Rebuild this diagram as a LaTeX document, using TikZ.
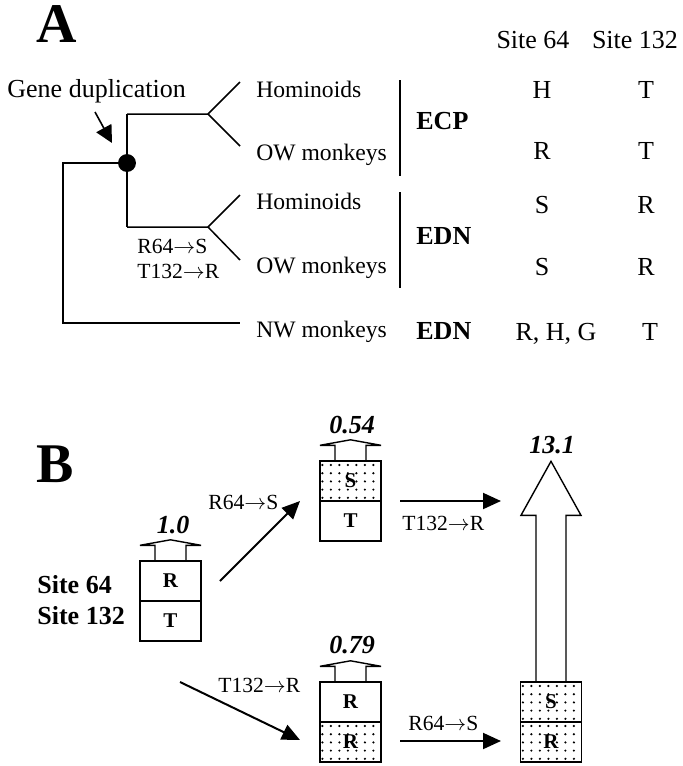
\documentclass[tikz,border=0pt]{standalone}
\usepackage{fontspec}
\setmainfont{Liberation Serif}
\usetikzlibrary{arrows.meta,calc}
\newcommand{\fs}[1]{\fontsize{#1}{#1}\selectfont}
\newcommand{\ra}{\ensuremath{\rightarrow}}
\begin{document}
\begin{tikzpicture}[x=0.5pt,y=-0.5pt,
  txt/.style={inner sep=0,anchor=base west},
  ctxt/.style={inner sep=0,anchor=base},
  treelab/.style={txt,font=\fs{11.8}},
  smalllab/.style={txt,font=\fs{10.8}},
  hdr/.style={ctxt,font=\fs{13}},
  grp/.style={txt,font=\bfseries\fs{13}},
  panel/.style={ctxt,font=\bfseries\fs{28}},
  num/.style={ctxt,font=\bfseries\itshape\fs{13}},
  tree/.style={line width=0.75pt},
  bar/.style={line width=0.8pt},
  cell/.style={draw,line width=0.7pt,minimum width=30.5pt,minimum height=20pt,inner sep=0,font=\bfseries\fs{10.5}},
  dotcell/.style={cell,path picture={
    \foreach \i in {0,...,6}{\foreach \j in {0,...,4}{
      \fill ([xshift=1.2pt+\i*4.25pt,yshift=-2pt-\j*4.1pt]path picture bounding box.north west) circle (0.6pt);}}}},
  arr/.style={line width=1pt,-{Triangle[length=9pt,width=8pt]}},
  blk/.style={line width=0.7pt,line join=miter}
]
\useasboundingbox (0,0) rectangle (683,766);

% ---------------- Panel A ----------------
\node[panel] (lA) at (56.5,42) {A};
\node[txt,font=\fs{13}] (gd) at (7,97) {Gene duplication};

\coordinate (root) at (63,163);
\coordinate (rootlow) at (63,323);
\coordinate (nwend) at (240,323);
\node[circle,fill=black,draw=black,minimum size=8.5pt,inner sep=0] (dup) at (127,163) {};
\coordinate (dupup) at (127,114);
\coordinate (duplow) at (127,227);
\coordinate (fk1) at (208,114);
\coordinate (fk2) at (208,227);
\coordinate (t1) at (240,82);
\coordinate (t2) at (240,146);
\coordinate (t3) at (240,195);
\coordinate (t4) at (240,260);
\coordinate (gdarrS) at (95,112);
\coordinate (gdarrE) at (112,143);

\draw[tree] (dup) -- (root) -- (rootlow) -- (nwend);
\draw[tree] (dupup) -- (duplow);
\draw[tree] (dupup) -- (fk1) -- (t1);
\draw[tree] (fk1) -- (t2);
\draw[tree] (duplow) -- (fk2) -- (t3);
\draw[tree] (fk2) -- (t4);
\draw[line width=0.8pt,-{Triangle[length=8.5pt,width=8.5pt]}] (gdarrS) -- (gdarrE);

\node[smalllab] (mutA1) at (137,253) {R64\ra S};
\node[smalllab] (mutA2) at (137,278) {T132\ra R};

\node[treelab] (h1) at (256,97) {Hominoids};
\node[treelab] (o1) at (256,160) {OW monkeys};
\node[treelab] (h2) at (256,209) {Hominoids};
\node[treelab] (o2) at (256,273) {OW monkeys};
\node[treelab] (nw) at (256,337) {NW monkeys};

\coordinate (bar1a) at (400,80);
\coordinate (bar1b) at (400,176);
\coordinate (bar2a) at (400,192);
\coordinate (bar2b) at (400,288);
\draw[bar] (bar1a) -- (bar1b);
\draw[bar] (bar2a) -- (bar2b);
\node[grp] (ecp) at (416,129) {ECP};
\node[grp] (edn1) at (416,244) {EDN};
\node[grp] (edn2) at (416,339) {EDN};

\node[hdr] (s64) at (533,48) {Site 64};
\node[hdr] (s132) at (635,48) {Site 132};
\node[hdr] (r1a) at (542,98) {H};
\node[hdr] (r1b) at (646,98) {T};
\node[hdr] (r2a) at (542,159) {R};
\node[hdr] (r2b) at (646,159) {T};
\node[hdr] (r3a) at (542,213) {S};
\node[hdr] (r3b) at (646,213) {R};
\node[hdr] (r4a) at (542,275) {S};
\node[hdr] (r4b) at (646,275) {R};
\node[hdr] (r5a) at (556,340) {R, H, G};
\node[hdr] (r5b) at (650,340) {T};

% ---------------- Panel B ----------------
\node[panel] (lB) at (55,482) {B};
\node[txt,font=\bfseries\fs{13}] (bs64) at (37,593) {Site 64};
\node[txt,font=\bfseries\fs{13}] (bs132) at (37,624) {Site 132};

\node[cell] (b1t) at (170.5,581) {R};
\node[cell] (b1b) at (170.5,621) {T};
\node[dotcell] (b2t) at (350.5,481) {S};
\node[cell] (b2b) at (350.5,521) {T};
\node[cell] (b3t) at (350.5,702) {R};
\node[dotcell] (b3b) at (350.5,742) {R};
\node[dotcell] (b4t) at (551,702) {S};
\node[dotcell] (b4b) at (551,742) {R};

% small block arrows
\foreach \b in {b1t,b2t,b3t}{
  \draw[blk] ($(\b.north)+(-15.5,0)$) -- ++(0,-15) -- ++(-15,0)
    -- ($(\b.north)+(0,-20.5)$) -- ($(\b.north)+(30.5,-15)$) -- ++(-15,0)
    -- ($(\b.north)+(15.5,0)$);
}
% big block arrow
\draw[blk] ($(b4t.north)+(-15,0)$) -- ($(b4t.north)+(-15,-166)$) -- ($(b4t.north)+(-30,-166)$)
  -- ($(b4t.north)+(0,-220)$) -- ($(b4t.north)+(30,-166)$) -- ($(b4t.north)+(15,-166)$)
  -- ($(b4t.north)+(15,0)$);

\node[num] (n1) at (173,533) {1.0};
\node[num] (n2) at (352,433) {0.54};
\node[num] (n3) at (352,653) {0.79};
\node[num] (n4) at (552,453) {13.1};

\coordinate (a1s) at (220,581);
\coordinate (a1e) at (300,501);
\coordinate (a2s) at (180,682);
\coordinate (a2e) at (300,740);
\coordinate (a3s) at (400,501);
\coordinate (a3e) at (501,501);
\coordinate (a4s) at (400,741);
\coordinate (a4e) at (501,741);
\draw[arr] (a1s) -- (a1e);
\draw[arr] (a2s) -- (a2e);
\draw[arr] (a3s) -- (a3e);
\draw[arr] (a4s) -- (a4e);

\node[smalllab] (m1) at (208,509) {R64\ra S};
\node[smalllab] (m2) at (218,692) {T132\ra R};
\node[smalllab] (m3) at (402,530) {T132\ra R};
\node[smalllab] (m4) at (408,730) {R64\ra S};
\end{tikzpicture}
\end{document}
